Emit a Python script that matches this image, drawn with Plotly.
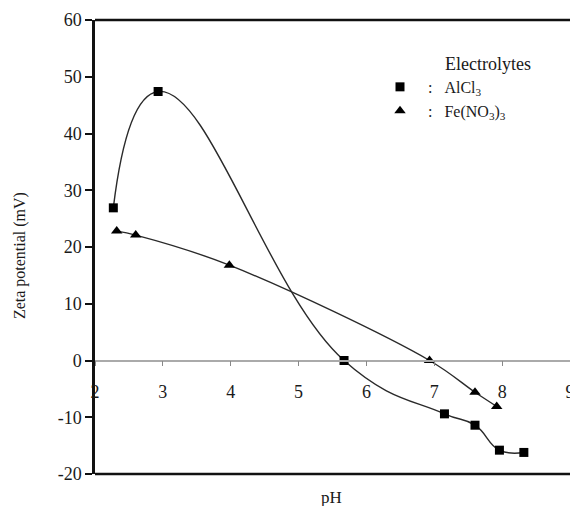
import plotly.graph_objects as go

# Data
al_ph = [2.27, 2.93, 5.67, 7.15, 7.6, 7.96, 8.32]
al_zeta = [26.9, 47.4, 0.0, -9.4, -11.4, -15.8, -16.2]

fe_ph = [2.32, 2.6, 3.98, 6.93, 7.6, 7.92]
fe_zeta = [22.8, 22.1, 16.8, 0.0, -5.6, -8.1]

x_ticks = [2, 3, 4, 5, 6, 7, 8, 9]
x_ticktext = ["2", "3", "4", "5", "6", "7", "8", "9"]
y_ticks = [-20, -10, 0, 10, 20, 30, 40, 50, 60]
y_ticktext = ["-20", "-10", "0", "10", "20", "30", "40", "50", "60"]

FONT = "Liberation Serif, Times New Roman, serif"
INK = "#1a1a1a"
NB = "\u00a0"

fig = go.Figure()
# curves
fig.add_trace(go.Scatter(
    x=al_ph, y=al_zeta, mode="lines", showlegend=False, hoverinfo="skip",
    line=dict(color="#2a2a2a", width=1.4, shape="spline", smoothing=1.3),
))
fig.add_trace(go.Scatter(
    x=fe_ph, y=fe_zeta, mode="lines", showlegend=False, hoverinfo="skip",
    line=dict(color="#2a2a2a", width=1.4, shape="spline", smoothing=1.0),
))
# markers (also legend entries)
fig.add_trace(go.Scatter(
    x=al_ph, y=al_zeta, mode="markers",
    name=NB * 2 + ":" + NB * 3 + "AlCl<sub>3</sub>",
    marker=dict(symbol="square", size=9, color="black"),
))
fig.add_trace(go.Scatter(
    x=fe_ph, y=fe_zeta, mode="markers",
    name=NB * 2 + ":" + NB * 3 + "Fe(NO<sub>3</sub>)<sub>3</sub>",
    marker=dict(symbol="triangle-up", size=10, color="black"),
))

fig.update_layout(
    width=570, height=506,
    margin=dict(l=95, r=0, t=20, b=32, autoexpand=False),
    paper_bgcolor="white", plot_bgcolor="white",
    font=dict(family=FONT, size=18, color=INK),
    showlegend=True,
    legend=dict(x=0.6, y=0.89, xanchor="left", yanchor="top",
                bgcolor="rgba(0,0,0,0)", font=dict(size=16, family=FONT, color=INK),
                tracegroupgap=0, itemwidth=30),
    xaxis=dict(range=[2, 9], tickvals=x_ticks, ticktext=x_ticktext,
               showgrid=False, zeroline=False, automargin=False,
               anchor="free", position=0.25, showline=True,
               linecolor="#aaaaaa", linewidth=1.5,
               ticks="outside", ticklen=5, tickcolor="#888888",
               ticklabelstandoff=10, ticklabeloverflow="allow",
               tickfont=dict(size=18)),
    yaxis=dict(range=[-20, 60], tickvals=y_ticks, ticktext=y_ticktext,
               showgrid=False, zeroline=False, automargin=False,
               showline=True, linecolor="#111111", linewidth=2.5,
               ticks="outside", ticklen=7, tickwidth=2, tickcolor="#111111",
               tickfont=dict(size=18)),
    shapes=[
        dict(type="line", xref="paper", yref="paper", x0=0, x1=1, y0=1, y1=1,
             line=dict(color="#111111", width=2.5)),
        dict(type="line", xref="paper", yref="paper", x0=0, x1=1, y0=0, y1=0,
             line=dict(color="#111111", width=2.5)),
    ],
    annotations=[
        dict(text="Electrolytes", xref="paper", yref="paper", x=0.733, y=0.903,
             xanchor="left", yanchor="middle", showarrow=False,
             font=dict(size=18, family=FONT)),
        dict(text="pH", xref="paper", yref="paper", x=0.497, y=-0.052,
             xanchor="center", yanchor="middle", showarrow=False,
             font=dict(size=17, family=FONT)),
        dict(text="Zeta potential (mV)", xref="paper", yref="paper",
             x=-0.158, y=0.482, textangle=-90,
             xanchor="center", yanchor="middle", showarrow=False,
             font=dict(size=16, family=FONT)),
    ],
)

fig.write_html("out.html", config={"displayModeBar": False},
               post_script="document.body.style.margin='0';document.body.style.overflow='hidden';")
